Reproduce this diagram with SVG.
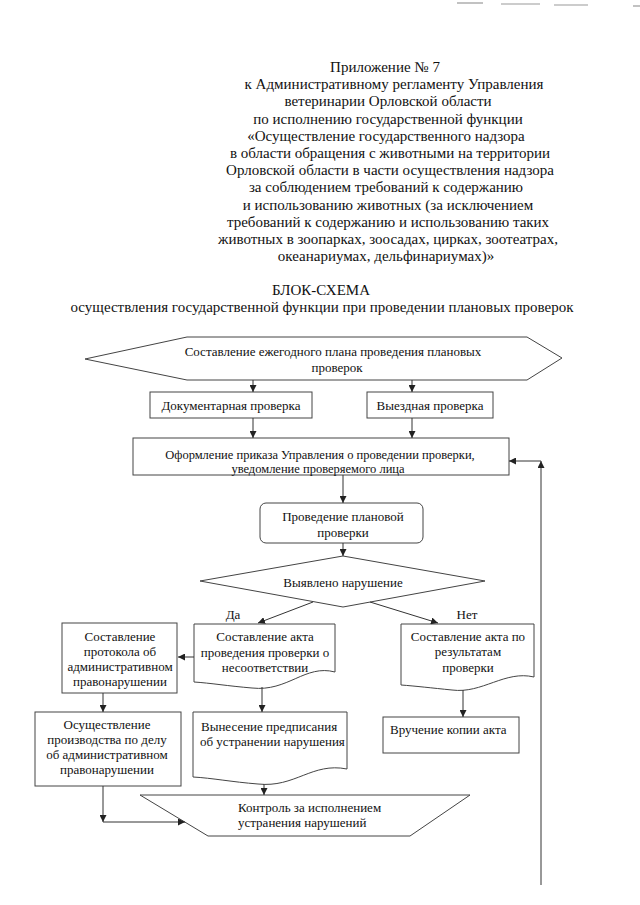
<svg xmlns="http://www.w3.org/2000/svg" width="640" height="905" viewBox="0 0 640 905">
<defs>
<style>
.hd{font-family:"Liberation Serif","Times New Roman",serif;font-size:15px;fill:#111;text-anchor:middle}
.t{font-family:"Liberation Serif","Times New Roman",serif;font-size:13px;fill:#111;text-anchor:middle}
.tl{font-family:"Liberation Serif","Times New Roman",serif;font-size:13px;fill:#111;text-anchor:start}
.sm{font-size:12.5px}
.s{fill:#fff;stroke:#444;stroke-width:1}
.c{fill:none;stroke:#333;stroke-width:1}
.scan{stroke:#999;stroke-width:1.2}
</style>
<marker id="ah" viewBox="0 0 10 10" refX="10" refY="5" markerWidth="7" markerHeight="7" markerUnits="userSpaceOnUse" orient="auto">
<path d="M0,0 L10,5 L0,10 Z" fill="#222"/>
</marker>
</defs>
<rect width="640" height="905" fill="#fff"/>

<g id="scan-marks">
<line class="scan" x1="457" y1="3" x2="483" y2="3"/>
<line class="scan" x1="501" y1="4" x2="540" y2="4"/>
<line class="scan" x1="554" y1="5" x2="588" y2="5"/>
<line class="scan" x1="633" y1="6" x2="640" y2="6"/>
</g>

<g id="header">
<text class="hd" x="385" y="72">Приложение № 7</text>
<text class="hd" x="394" y="89.2">к Административному регламенту Управления</text>
<text class="hd" x="388" y="106.4">ветеринарии Орловской области</text>
<text class="hd" x="388" y="123.6">по исполнению государственной функции</text>
<text class="hd" x="386" y="140.8">«Осуществление государственного надзора</text>
<text class="hd" x="390" y="158">в области обращения с животными на территории</text>
<text class="hd" x="390" y="175.2">Орловской области в части осуществления надзора</text>
<text class="hd" x="386" y="192.4">за соблюдением требований к содержанию</text>
<text class="hd" x="388" y="209.6">и использованию животных (за исключением</text>
<text class="hd" x="388" y="226.8">требований к содержанию и использованию таких</text>
<text class="hd" x="388" y="244">животных в зоопарках, зоосадах, цирках, зоотеатрах,</text>
<text class="hd" x="386" y="261.2">океанариумах, дельфинариумах)»</text>
<text class="hd" x="321" y="295">БЛОК-СХЕМА</text>
<text class="hd" x="322" y="312">осуществления государственной функции при проведении плановых проверок</text>
</g>

<g id="n-plan">
<polygon class="s" points="85,359 187,337 527,337 562,358 527,380 187,380"/>
<text class="t" x="333" y="356">Составление ежегодного плана проведения плановых</text>
<text class="t" x="337" y="372">проверок</text>
</g>

<g id="n-doc">
<rect class="s" x="150" y="392" width="162" height="26"/>
<text class="t" x="231" y="410">Документарная проверка</text>
</g>

<g id="n-field">
<rect class="s" x="367" y="392" width="126" height="26"/>
<text class="t" x="430" y="410">Выездная проверка</text>
</g>

<g id="n-order">
<rect class="s" x="133" y="438" width="376" height="37"/>
<text class="t sm" x="320" y="458.5">Оформление приказа Управления о проведении проверки,</text>
<text class="t sm" x="318" y="472.5">уведомление проверяемого лица</text>
</g>

<g id="n-conduct">
<rect class="s" x="260" y="503" width="163" height="40" rx="6" ry="6"/>
<text class="t" x="343" y="521">Проведение плановой</text>
<text class="t" x="343" y="537">проверки</text>
</g>

<g id="n-decision">
<polygon class="s" points="200,581 343,556 485,581 343,607"/>
<text class="t" x="343" y="587">Выявлено нарушение</text>
</g>

<g id="n-act-viol">
<path class="s" d="M194,624 H335 V672 C305,664 288,692 252,688 C228,686 210,683 194,682 Z"/>
<text class="t" x="265" y="641">Составление акта</text>
<text class="t" x="265" y="656.5">проведения проверки о</text>
<text class="t" x="265" y="671.5">несоответствии</text>
</g>

<g id="n-protocol">
<rect class="s" x="62" y="623" width="115" height="70"/>
<text class="t" x="120" y="641">Составление</text>
<text class="t" x="120" y="656">протокола об</text>
<text class="t" x="120" y="671">административном</text>
<text class="t" x="120" y="686">правонарушении</text>
</g>

<g id="n-proceeding">
<rect class="s" x="35" y="712" width="146" height="74"/>
<text class="t" x="107" y="729">Осуществление</text>
<text class="t" x="107" y="744">производства по делу</text>
<text class="t" x="107" y="759">об административном</text>
<text class="t" x="107" y="774">правонарушении</text>
</g>

<g id="n-prescription">
<path class="s" d="M193,712 H347 V769 C312,762 295,788 258,784 C232,782 212,778 193,777 Z"/>
<text class="tl" x="201" y="730.5">Вынесение предписания</text>
<text class="tl" x="200" y="745.5">об устранении нарушения</text>
</g>

<g id="n-act-ok">
<path class="s" d="M401,624 H534 V677 C505,670 482,694 452,690 C432,688 415,686 401,685 Z"/>
<text class="t" x="468" y="641">Составление акта по</text>
<text class="t" x="468" y="656">результатам</text>
<text class="t" x="468" y="671.5">проверки</text>
</g>

<g id="n-copy">
<rect class="s" x="383" y="717" width="136" height="36"/>
<text class="tl" x="390" y="734">Вручение копии акта</text>
</g>

<g id="n-control">
<polygon class="s" points="140,795 470,795 410,836 208,836"/>
<text class="tl" x="238" y="812">Контроль за исполнением</text>
<text class="tl" x="238" y="827">устранения нарушений</text>
</g>

<g id="labels">
<text class="t" x="233" y="619">Да</text>
<text class="t" x="467" y="619">Нет</text>
</g>

<g id="connectors">
<line class="c" x1="253" y1="380" x2="253" y2="392" marker-end="url(#ah)"/>
<line class="c" x1="412" y1="380" x2="412" y2="392" marker-end="url(#ah)"/>
<line class="c" x1="253" y1="418" x2="253" y2="438" marker-end="url(#ah)"/>
<line class="c" x1="412" y1="418" x2="412" y2="438" marker-end="url(#ah)"/>
<line class="c" x1="343" y1="475" x2="343" y2="503" marker-end="url(#ah)"/>
<line class="c" x1="343" y1="543" x2="343" y2="556" marker-end="url(#ah)"/>
<line class="c" x1="313" y1="602" x2="258" y2="623" marker-end="url(#ah)"/>
<line class="c" x1="370" y1="602" x2="438" y2="623" marker-end="url(#ah)"/>
<line class="c" x1="194" y1="657" x2="178" y2="657" marker-end="url(#ah)"/>
<line class="c" x1="103" y1="693" x2="103" y2="712" marker-end="url(#ah)"/>
<line class="c" x1="262" y1="687" x2="262" y2="712" marker-end="url(#ah)"/>
<line class="c" x1="463" y1="690" x2="463" y2="717" marker-end="url(#ah)"/>
<line class="c" x1="264" y1="784" x2="264" y2="795" marker-end="url(#ah)"/>
<line class="c" x1="103" y1="786" x2="103" y2="822" marker-end="url(#ah)"/>
<line class="c" x1="103" y1="822" x2="185" y2="822" marker-end="url(#ah)"/>
<line class="c" x1="541" y1="885" x2="541" y2="461" marker-end="url(#ah)"/>
<line class="c" x1="541" y1="461" x2="509" y2="461" marker-end="url(#ah)"/>
</g>
</svg>
